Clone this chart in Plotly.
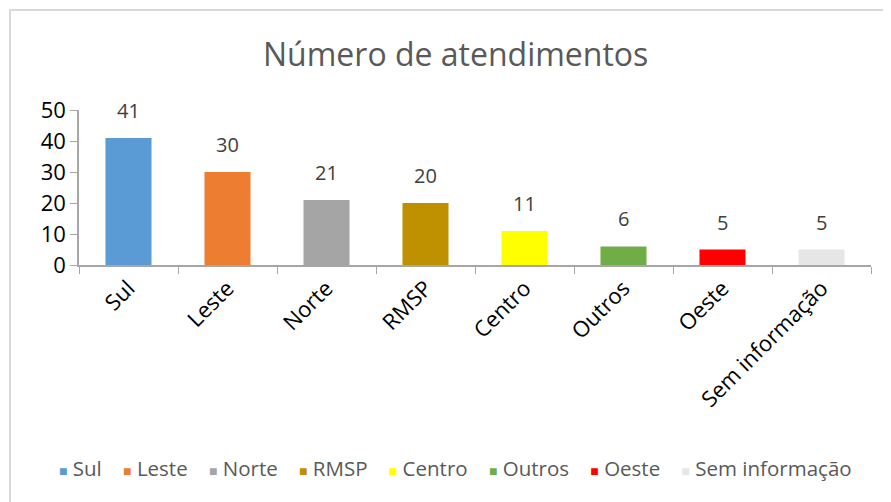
import plotly.graph_objects as go

categorias = ["Sul", "Leste", "Norte", "RMSP", "Centro", "Outros", "Oeste", "Sem informação"]
atendimentos = [41, 30, 21, 20, 11, 6, 5, 5]
cores = ["#5b9bd5", "#ed7d31", "#a5a5a5", "#bf9000", "#ffff00", "#70ad47", "#ff0000", "#e7e6e6"]
y_ticks = [0, 10, 20, 30, 40, 50]

FONTE = "Open Sans"

fig = go.Figure()
for cat, val, cor in zip(categorias, atendimentos, cores):
    fig.add_trace(go.Bar(
        x=[cat], y=[val],
        name=cat,
        marker_color=cor,
        marker_line_width=0,
        width=0.465,
        showlegend=False,
    ))
    fig.add_annotation(
        x=cat, y=val,
        text=str(val),
        showarrow=False,
        yanchor="bottom",
        yshift=12,
        font=dict(family=FONTE, size=20, color="#404040"),
    )

# legenda compacta (a legenda do plotly quebra em duas linhas)
itens = []
for cat, cor in zip(categorias, cores):
    itens.append("<span style='color:%s;font-size:14px'>■</span> %s" % (cor, cat))
fig.add_annotation(
    xref="paper", yref="paper",
    x=0.476, y=-1.31,
    xanchor="center", yanchor="middle",
    text="\u00a0\u00a0\u00a0\u00a0".join(itens),
    showarrow=False,
    font=dict(family=FONTE, size=20.5, color="#595959"),
)

# moldura cinza do grafico
fig.add_shape(
    type="rect", xref="paper", yref="paper",
    x0=-0.0871, x1=1.04, y0=-1.6, y1=1.645,
    line=dict(color="#d9d9d9", width=2),
)

# a pagina tem 8px de margem no body, por isso 883x494
fig.update_layout(
    width=883,
    height=494,
    barmode="overlay",
    showlegend=False,
    paper_bgcolor="white",
    plot_bgcolor="white",
    margin=dict(l=71, r=20, t=102, b=237),
    title=dict(text="Número de atendimentos", x=0.507, xanchor="center",
               y=0.905, yanchor="middle",
               font=dict(family=FONTE, size=32, color="#595959")),
    xaxis=dict(
        automargin=False,
        showline=True,
        linecolor="#a6a6a6",
        linewidth=1.5,
        ticks="outside",
        tickson="boundaries",
        ticklen=7,
        tickcolor="#a6a6a6",
        tickangle=-45,
        tickfont=dict(family=FONTE, size=22, color="black"),
        showgrid=False,
    ),
    yaxis=dict(
        automargin=False,
        range=[0, 50],
        tickvals=y_ticks,
        showline=True,
        linecolor="#a6a6a6",
        linewidth=1.5,
        ticks="outside",
        ticklen=7,
        tickcolor="#a6a6a6",
        showgrid=False,
        zeroline=False,
        tickfont=dict(family=FONTE, size=22, color="black"),
    ),
)

fig.write_html("out.html")
